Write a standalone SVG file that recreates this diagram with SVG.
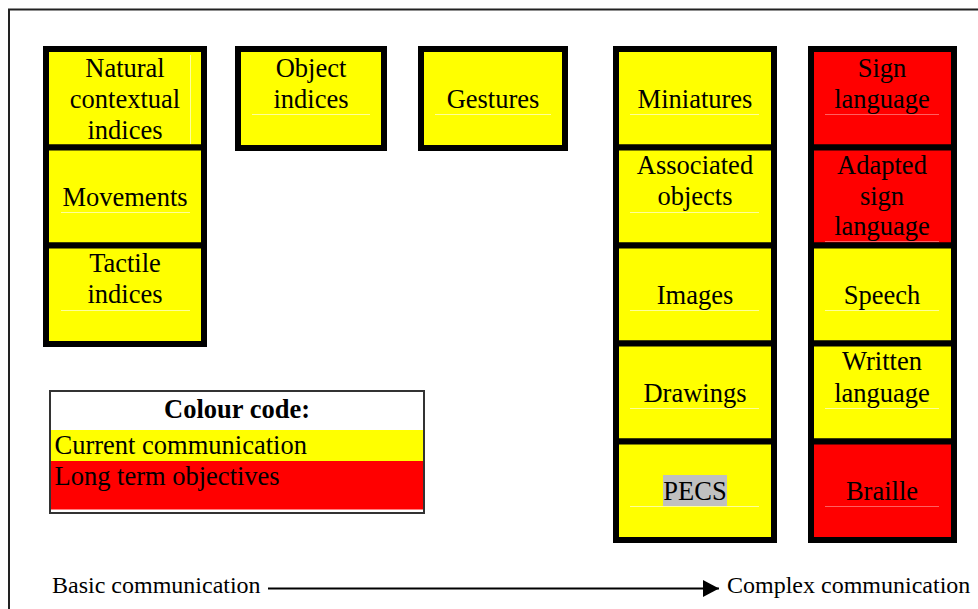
<svg xmlns="http://www.w3.org/2000/svg" width="978" height="609" viewBox="0 0 978 609">
<style>
.cell{stroke:#000;stroke-width:6}
.y{fill:#ffff00}
.r{fill:#ff0000}
.t{font-family:"Liberation Serif","Times New Roman",serif;font-size:26.5px;fill:#000;text-anchor:middle}
.tl{font-family:"Liberation Serif","Times New Roman",serif;font-size:26.5px;fill:#000}
.b{font-family:"Liberation Serif","Times New Roman",serif;font-size:24px;fill:#000}
.fy{stroke:#ffff99;stroke-width:1}
.fr{stroke:#ff6060;stroke-width:1}
</style>
<defs>
<marker id="arrow" markerUnits="userSpaceOnUse" markerWidth="18" markerHeight="18" refX="16" refY="9" orient="auto">
<path d="M0,0.5 L16,9 L0,17.5 Z" fill="#000"/>
</marker>
</defs>
<rect width="978" height="609" fill="#fff"/>
<rect x="9" y="9.5" width="1000" height="700" fill="none" stroke="#222" stroke-width="2"/>

<!-- Left column -->
<g id="natural-contextual-indices">
<rect class="cell y" x="46" y="49" width="158" height="98.5"/>
<line class="fy" x1="190.5" y1="55" x2="190.5" y2="144"/>
<text class="t" x="125" y="77">Natural</text>
<text class="t" x="125" y="108">contextual</text>
<text class="t" x="125" y="138.5">indices</text>
</g>
<g id="movements">
<rect class="cell y" x="46" y="147.5" width="158" height="98"/>
<line class="fy" x1="61" y1="212.5" x2="190" y2="212.5"/>
<text class="t" x="125" y="206">Movements</text>
</g>
<g id="tactile-indices">
<rect class="cell y" x="46" y="245.5" width="158" height="98.5"/>
<line class="fy" x1="61" y1="310.5" x2="190" y2="310.5"/>
<text class="t" x="125" y="272">Tactile</text>
<text class="t" x="125" y="303">indices</text>
</g>

<!-- Object indices -->
<g id="object-indices">
<rect class="cell y" x="238" y="49" width="146" height="99"/>
<line class="fy" x1="252" y1="114.5" x2="370" y2="114.5"/>
<text class="t" x="311" y="77">Object</text>
<text class="t" x="311" y="107.5">indices</text>
</g>

<!-- Gestures -->
<g id="gestures">
<rect class="cell y" x="421" y="49" width="144" height="99"/>
<line class="fy" x1="435" y1="114.5" x2="551" y2="114.5"/>
<text class="t" x="493" y="107.5">Gestures</text>
</g>

<!-- Middle column -->
<g id="miniatures">
<rect class="cell y" x="616" y="49" width="158" height="98.5"/>
<line class="fy" x1="630" y1="114.5" x2="759" y2="114.5"/>
<text class="t" x="695" y="107.5">Miniatures</text>
</g>
<g id="associated-objects">
<rect class="cell y" x="616" y="147.5" width="158" height="98"/>
<line class="fy" x1="630" y1="212.5" x2="759" y2="212.5"/>
<text class="t" x="695" y="174">Associated</text>
<text class="t" x="695" y="204.5">objects</text>
</g>
<g id="images">
<rect class="cell y" x="616" y="245.5" width="158" height="98"/>
<line class="fy" x1="630" y1="310.5" x2="759" y2="310.5"/>
<text class="t" x="695" y="304">Images</text>
</g>
<g id="drawings">
<rect class="cell y" x="616" y="343.5" width="158" height="98"/>
<line class="fy" x1="630" y1="408.5" x2="759" y2="408.5"/>
<text class="t" x="695" y="402">Drawings</text>
</g>
<g id="pecs">
<rect class="cell y" x="616" y="441.5" width="158" height="98.5"/>
<line class="fy" x1="630" y1="506.5" x2="759" y2="506.5"/>
<rect x="663" y="475" width="64" height="31" fill="#c0c0c0"/>
<text class="t" x="695" y="500">PECS</text>
</g>

<!-- Right column -->
<g id="sign-language">
<rect class="cell r" x="811" y="49" width="143" height="98.5"/>
<line class="fr" x1="825" y1="114.5" x2="939" y2="114.5"/>
<text class="t" x="882" y="77">Sign</text>
<text class="t" x="882" y="107.5">language</text>
</g>
<g id="adapted-sign-language">
<rect class="cell r" x="811" y="147.5" width="143" height="98"/>
<line class="fr" x1="825" y1="241.5" x2="939" y2="241.5"/>
<text class="t" x="882" y="174">Adapted</text>
<text class="t" x="882" y="204.5">sign</text>
<text class="t" x="882" y="235">language</text>
</g>
<g id="speech">
<rect class="cell y" x="811" y="245.5" width="143" height="98"/>
<line class="fy" x1="825" y1="310.5" x2="939" y2="310.5"/>
<text class="t" x="882" y="304">Speech</text>
</g>
<g id="written-language">
<rect class="cell y" x="811" y="343.5" width="143" height="98"/>
<line class="fy" x1="825" y1="408.5" x2="939" y2="408.5"/>
<text class="t" x="882" y="370">Written</text>
<text class="t" x="882" y="402">language</text>
</g>
<g id="braille">
<rect class="cell r" x="811" y="441.5" width="143" height="98.5"/>
<line class="fr" x1="825" y1="506.5" x2="939" y2="506.5"/>
<text class="t" x="882" y="500">Braille</text>
</g>

<!-- Legend -->
<g id="legend">
<rect x="50" y="391" width="374" height="122" fill="#fff" stroke="#333" stroke-width="2"/>
<rect x="51" y="430" width="372" height="31" fill="#ffff00"/>
<rect x="51" y="461" width="372" height="48.5" fill="#ff0000"/>
<text class="t" x="237" y="418" font-weight="bold">Colour code:</text>
<text class="tl" x="54.5" y="454">Current communication</text>
<text class="tl" x="54.5" y="485">Long term objectives</text>
</g>

<!-- Axis labels -->
<g id="basic-communication">
<text class="b" x="52" y="593">Basic communication</text>
</g>
<g id="complex-communication">
<text class="b" x="727" y="593">Complex communication</text>
</g>

<g id="connectors">
<line x1="268" y1="588.5" x2="719" y2="588.5" stroke="#000" stroke-width="2" marker-end="url(#arrow)"/>
</g>
</svg>
